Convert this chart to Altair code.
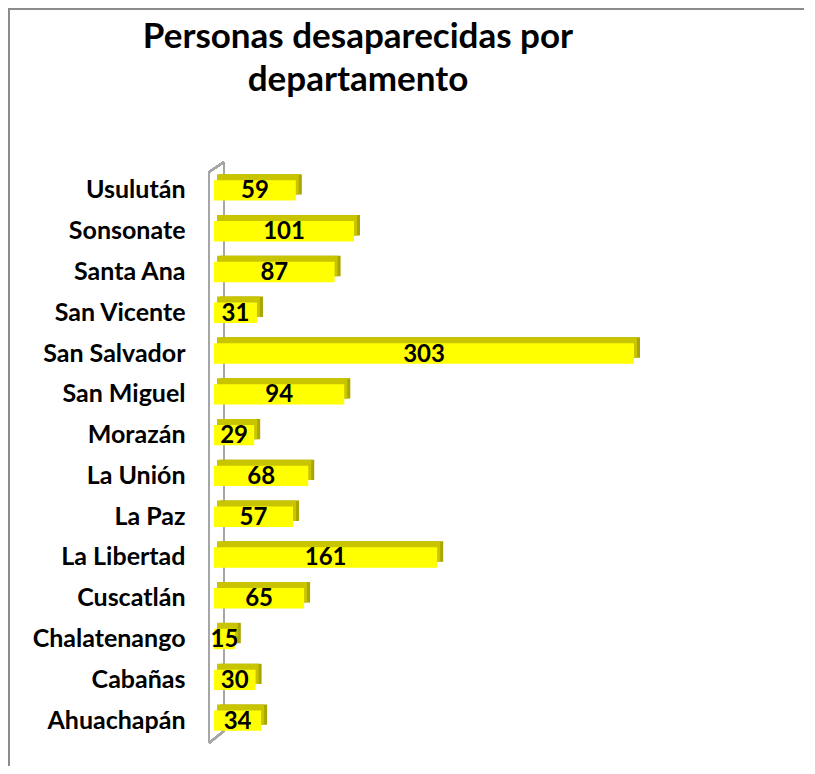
import altair as alt
import pandas as pd

departamentos = ["Usulután", "Sonsonate", "Santa Ana", "San Vicente", "San Salvador",
                 "San Miguel", "Morazán", "La Unión", "La Paz", "La Libertad",
                 "Cuscatlán", "Chalatenango", "Cabañas", "Ahuachapán"]
personas = [59, 101, 87, 31, 303, 94, 29, 68, 57, 161, 65, 15, 30, 34]

df = pd.DataFrame({"dep": departamentos, "n": personas})

FONT = "Lato"
W, H = 420, 571

x_enc = alt.X("n:Q", scale=alt.Scale(domain=[0, 303], nice=False, zero=True), axis=None)
y_enc = alt.Y("dep:N", sort=departamentos,
              scale=alt.Scale(paddingInner=0.5, paddingOuter=0.25),
              axis=alt.Axis(title=None, ticks=False, domain=False, labelPadding=29,
                            labelFont=FONT, labelFontSize=25, labelFontWeight="bold",
                            labelColor="black"))

base = alt.Chart(df)

frame = base.mark_rect(fill=None, stroke="#8c8c8c", strokeWidth=1.5).encode(
    x=alt.value(-205), x2=alt.value(596), y=alt.value(-161), y2=alt.value(700))

wall_color = "#a6a6a6"
wall_front = base.mark_rule(color=wall_color, strokeWidth=2).encode(
    x=alt.value(-5), x2=alt.value(-5), y=alt.value(2), y2=alt.value(573))
wall_back = base.mark_rule(color=wall_color, strokeWidth=2).encode(
    x=alt.value(10), x2=alt.value(10), y=alt.value(-8), y2=alt.value(561))
wall_top = base.mark_rule(color=wall_color, strokeWidth=2).encode(
    x=alt.value(-5), x2=alt.value(10), y=alt.value(2), y2=alt.value(-8))
wall_bot = base.mark_rule(color=wall_color, strokeWidth=2).encode(
    x=alt.value(-5), x2=alt.value(10), y=alt.value(573), y2=alt.value(561))

side = base.mark_bar(color="#aaa600", xOffset=6, x2Offset=6, yOffset=-6, y2Offset=-6).encode(
    x=x_enc, y=y_enc)
top = base.mark_bar(color="#c8c400", xOffset=3, x2Offset=3, yOffset=-6, y2Offset=-6).encode(
    x=x_enc, y=y_enc)
front = base.mark_bar(color="#ffff00").encode(x=x_enc, y=y_enc)

labels = base.transform_calculate(mid="datum.n / 2").mark_text(
    font=FONT, fontSize=24, fontWeight="bold", color="black", baseline="middle", dy=1
).encode(x=alt.X("mid:Q", scale=alt.Scale(domain=[0, 303], nice=False)), y=y_enc,
         text=alt.Text("n:Q"))

chart = alt.layer(frame, wall_back, wall_top, wall_bot, side, top, front, wall_front, labels).properties(
    width=W, height=H,
    title=alt.Title(["Personas desaparecidas por", "departamento"], anchor="middle", dx=-66,
                    offset=-90, font=FONT, fontSize=35, fontWeight="bold", color="black",
                    lineHeight=43),
    padding={"left": 206, "top": 162, "right": 170, "bottom": 25},
    autosize=alt.AutoSizeParams(type="none"),
).configure(background="white", view=alt.ViewConfig(strokeWidth=0))

chart.save("out.html", embed_options={"renderer": "svg", "actions": False})
